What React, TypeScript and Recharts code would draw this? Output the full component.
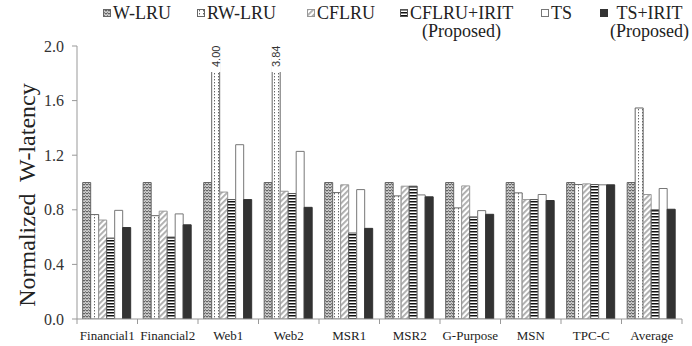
import React from 'react'
import { BarChart, Bar, XAxis, YAxis, LabelList } from 'recharts'

const categories = ['Financial1', 'Financial2', 'Web1', 'Web2', 'MSR1', 'MSR2', 'G-Purpose', 'MSN', 'TPC-C', 'Average']
const wLru      = [1.0, 1.0, 1.0, 1.0, 1.0, 1.0, 1.0, 1.0, 1.0, 1.0]
const rwLru     = [0.765, 0.757, 4.0, 3.84, 0.926, 0.902, 0.814, 0.924, 0.985, 1.546]
const cflru     = [0.725, 0.79, 0.93, 0.936, 0.983, 0.973, 0.975, 0.875, 0.99, 0.912]
const cflruIrit = [0.593, 0.6, 0.875, 0.919, 0.63, 0.973, 0.748, 0.875, 0.985, 0.8]
const ts        = [0.796, 0.77, 1.277, 1.228, 0.948, 0.909, 0.794, 0.912, 0.983, 0.956]
const tsIrit    = [0.67, 0.69, 0.875, 0.818, 0.664, 0.895, 0.767, 0.868, 0.983, 0.804]
const yTicks    = [0, 0.4, 0.8, 1.2, 1.6, 2.0]

const SERIES = [
  { key: 'wLru',      name: 'W-LRU',      sub: '',           fill: 'url(#pat-zig)',   stroke: '#666' },
  { key: 'rwLru',     name: 'RW-LRU',     sub: '',           fill: 'url(#pat-dots)',  stroke: '#666' },
  { key: 'cflru',     name: 'CFLRU',      sub: '',           fill: 'url(#pat-diag)',  stroke: '#999' },
  { key: 'cflruIrit', name: 'CFLRU+IRIT', sub: '(Proposed)', fill: 'url(#pat-hline)', stroke: '#555' },
  { key: 'ts',        name: 'TS',         sub: '',           fill: '#ffffff',         stroke: '#777' },
  { key: 'tsIrit',    name: 'TS+IRIT',    sub: '(Proposed)', fill: '#333333',         stroke: '#333' },
]

// left edge of each legend entry (layout only)
const LEGEND_LEFT = [103, 197, 307, 400, 541, 600]

const data = categories.map((name, i) => ({
  name,
  wLru: wLru[i],
  rwLru: rwLru[i],
  cflru: cflru[i],
  cflruIrit: cflruIrit[i],
  ts: ts[i],
  tsIrit: tsIrit[i],
}))

const W = 692
const H = 346
const Y_AXIS_W = 77
const RIGHT = 10
const TOP = 46
const Y_MAX = 2
const BAND = (W - Y_AXIS_W - RIGHT) / categories.length
const SERIF = '"Liberation Serif", "Times New Roman", serif'

const Patterns = () => (
  <svg width={0} height={0} style={{ position: 'absolute' }}>
    <defs>
      <pattern id="pat-zig" width={3} height={3} patternUnits="userSpaceOnUse">
        <rect width={3} height={3} fill="#d0d0d0" />
        <path d="M0 2.2 L1.5 0.8 L3 2.2" fill="none" stroke="#444" strokeWidth={1} />
      </pattern>
      <pattern id="pat-dots" width={4} height={3} patternUnits="userSpaceOnUse">
        <rect width={4} height={3} fill="#fff" />
        <rect x={2} y={1} width={1} height={1.4} fill="#666" />
      </pattern>
      <pattern id="pat-diag" width={4} height={4} patternUnits="userSpaceOnUse" patternTransform="rotate(45)">
        <rect width={4} height={4} fill="#fff" />
        <rect width={1.8} height={4} fill="#aaa" />
      </pattern>
      <pattern id="pat-hline" width={4} height={3} patternUnits="userSpaceOnUse">
        <rect width={4} height={3} fill="#fff" />
        <rect width={4} height={1.5} fill="#111" />
      </pattern>
    </defs>
  </svg>
)

const CatTick = ({ x, y, payload, index }: any) => (
  <g>
    <line x1={x - BAND / 2} x2={x - BAND / 2} y1={y} y2={y + 5} stroke="#999" />
    {index === categories.length - 1 && (
      <line x1={x + BAND / 2} x2={x + BAND / 2} y1={y} y2={y + 5} stroke="#999" />
    )}
    <text x={x} y={y + 21} textAnchor="middle" fontSize={13} fontFamily={SERIF} fill="#222">
      {payload.value}
    </text>
  </g>
)

const ValTick = ({ x, y, payload }: any) => (
  <text x={x} y={y} dy="0.35em" textAnchor="end" fontSize={16} fontFamily={SERIF} fill="#333">
    {Number(payload.value).toFixed(1)}
  </text>
)

// value label for bars that run past the top of the axis
const OverflowLabel = ({ x, y, width, value }: any) => {
  if (value == null || value <= Y_MAX) return null
  const cx = x + width / 2
  const top = TOP
  return (
    <g>
      <rect x={x - 1} y={top} width={width + 2} height={26} fill="#fff" />
      <text
        x={cx}
        y={top + 21}
        transform={`rotate(-90 ${cx} ${top + 21})`}
        textAnchor="start"
        dominantBaseline="central"
        fontSize={11}
        fontFamily='"Liberation Sans", Arial, sans-serif'
        fill="#333"
      >
        {Number(value).toFixed(2)}
      </text>
    </g>
  )
}

const YTitle = () => (
  <text
    x={27}
    y={195}
    transform="rotate(-90 27 195)"
    textAnchor="middle"
    dominantBaseline="central"
    fontSize={24}
    fontFamily={SERIF}
    fill="#222"
    style={{ whiteSpace: 'pre' }}
  >
    {'Normalized  W-latency'}
  </text>
)

const LegendBox = () => (
  <div style={{ position: 'absolute', top: 4, left: 0, width: W, height: 44, fontFamily: SERIF, fontSize: 18, lineHeight: '18px', color: '#222' }}>
    {SERIES.map((s, i) => (
      <div key={s.key} style={{ position: 'absolute', left: LEGEND_LEFT[i], top: 0, display: 'flex', alignItems: 'flex-start' }}>
        <svg width={8} height={8} style={{ marginTop: 5, marginRight: 2, flex: 'none' }}>
          <rect x={0.5} y={0.5} width={7} height={7} fill={s.fill} stroke={s.stroke} />
        </svg>
        <div style={{ textAlign: 'center', whiteSpace: 'nowrap' }}>
          <div>{s.name}</div>
          {s.sub && <div>{s.sub}</div>}
        </div>
      </div>
    ))}
  </div>
)

export default function App() {
  return (
    <div style={{ position: 'absolute', left: 0, top: 0, width: W, height: H, background: '#fff' }}>
      <Patterns />
      <BarChart
        width={W}
        height={H}
        data={data}
        margin={{ top: TOP, right: RIGHT, bottom: 0, left: 0 }}
        barCategoryGap="9.4%"
        barGap={0}
      >
        <XAxis
          dataKey="name"
          height={H - TOP - 273}
          interval={0}
          axisLine={{ stroke: '#999' }}
          tickLine={false}
          tickSize={0}
          tickMargin={0}
          tick={<CatTick />}
        />
        <YAxis
          width={Y_AXIS_W}
          domain={[0, Y_MAX]}
          ticks={yTicks}
          allowDataOverflow
          interval={0}
          axisLine={{ stroke: '#999' }}
          tickLine={{ stroke: '#999' }}
          tickSize={5}
          tickMargin={8}
          tick={<ValTick />}
          label={{ content: YTitle }}
        />
        {SERIES.map((s) => (
          <Bar
            key={s.key}
            dataKey={s.key}
            name={s.name}
            fill={s.fill}
            stroke={s.stroke}
            strokeWidth={1}
            isAnimationActive={false}
          >
            {s.key === 'rwLru' && <LabelList dataKey={s.key} content={<OverflowLabel />} />}
          </Bar>
        ))}
      </BarChart>
      <LegendBox />
    </div>
  )
}
